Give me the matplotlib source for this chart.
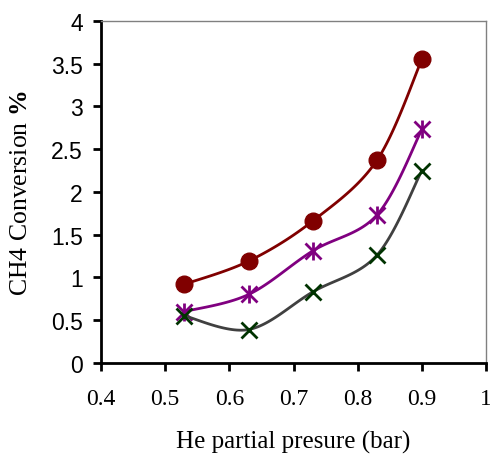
import numpy as np
import matplotlib.pyplot as plt

plt.rcParams['mathtext.fontset'] = 'custom'
plt.rcParams['mathtext.rm'] = 'Liberation Serif'
plt.rcParams['mathtext.bf'] = 'Liberation Serif:bold'

# He partial pressure (bar)
x = [0.53, 0.63, 0.73, 0.83, 0.90]
# CH4 conversion %
conv_red = [0.92, 1.19, 1.66, 2.37, 3.55]
conv_purple = [0.60, 0.80, 1.31, 1.73, 2.73]
conv_green = [0.55, 0.39, 0.83, 1.26, 2.25]


def smooth(xs, ys, n=30):
    # Catmull-Rom through the points, like Excel's smoothed line
    p = np.column_stack([xs, ys]).astype(float)
    p = np.vstack([p[0], p, p[-1]])
    out = []
    for i in range(1, len(p) - 2):
        p0, p1, p2, p3 = p[i - 1], p[i], p[i + 1], p[i + 2]
        t = np.linspace(0, 1, n)[:, None]
        seg = 0.5 * ((2 * p1) + (-p0 + p2) * t
                     + (2 * p0 - 5 * p1 + 4 * p2 - p3) * t**2
                     + (-p0 + 3 * p1 - 3 * p2 + p3) * t**3)
        out.append(seg)
    out = np.vstack(out)
    return out[:, 0], out[:, 1]


fig = plt.figure(figsize=(4.9, 4.56), dpi=100)
ax = fig.add_axes([0.206, 0.202, 0.786, 0.75])

sx, sy = smooth(x, conv_red)
ax.plot(sx, sy, color='#800000', lw=2)
ax.plot(x, conv_red, 'o', color='#800000', ms=12)

sx, sy = smooth(x, conv_purple)
ax.plot(sx, sy, color='#800080', lw=2)
ax.plot(x, conv_purple, 'x', color='#800080', ms=11, mew=2)
ax.plot(x, conv_purple, '|', color='#800080', ms=13, mew=2)

sx, sy = smooth(x, conv_green)
ax.plot(sx, sy, color='#404040', lw=2)
ax.plot(x, conv_green, 'x', color='#003300', ms=12, mew=2)

ax.set_xlim(0.4, 1.0)
ax.set_ylim(0, 4)
ax.set_xticks(np.arange(0.4, 1.01, 0.1))
ax.set_xticklabels(['0.4', '0.5', '0.6', '0.7', '0.8', '0.9', '1'],
                   family='Liberation Serif', fontsize=17)
ax.set_yticks(np.arange(0, 4.01, 0.5))
ax.set_yticklabels(['0', '0.5', '1', '1.5', '2', '2.5', '3', '3.5', '4'],
                   family='Liberation Sans', fontsize=16.5)

for s in ['left', 'bottom']:
    ax.spines[s].set_linewidth(2)
    ax.spines[s].set_color('black')
for s in ['top', 'right']:
    ax.spines[s].set_linewidth(1)
    ax.spines[s].set_color('#808080')
ax.tick_params(direction='out', length=6, width=2, colors='black')
ax.tick_params(axis='y', pad=7)
ax.tick_params(axis='x', pad=12)

ax.set_xlabel('He partial presure (bar)', family='Liberation Serif',
              fontsize=18)
ax.xaxis.set_label_coords(0.5, -0.196)
ax.set_ylabel('CH4 Conversion $\\mathbf{\\%}$', family='Liberation Serif',
              fontsize=18.5)
ax.yaxis.set_label_coords(-0.18, 0.5)

fig.savefig('out.png')
